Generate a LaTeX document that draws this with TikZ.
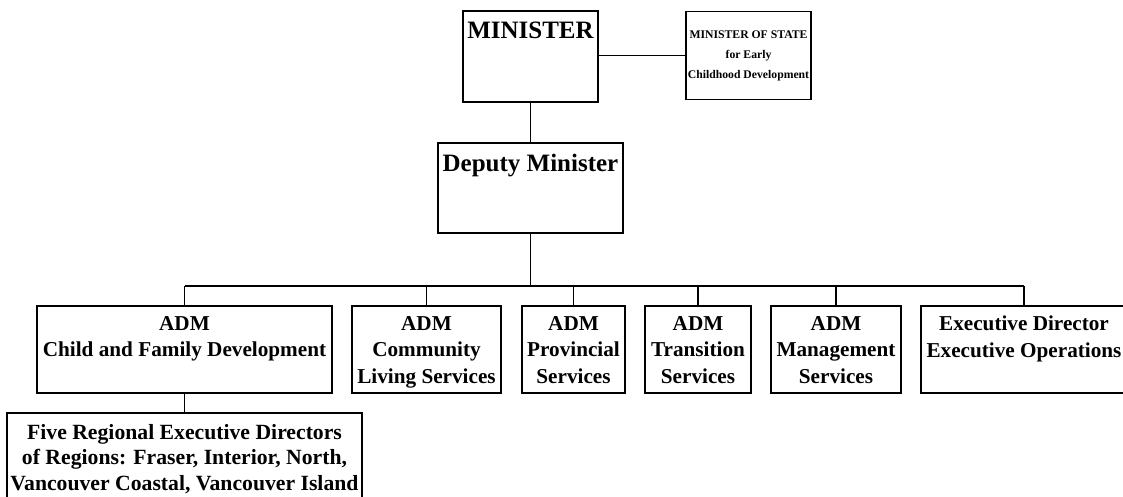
\documentclass[tikz,border=0pt]{standalone}
\usepackage{fontspec}
\setmainfont{Liberation Serif}
\begin{document}
\begin{tikzpicture}[x=1pt,y=-1pt,
  box/.style={draw,line width=1.6pt,inner sep=0pt,outer sep=0pt,minimum width=#1},
  lbl/.style={anchor=north,inner sep=0pt,align=center,font=\bfseries\fontsize{21.2}{26.5}\selectfont},
  lblfive/.style={anchor=north,inner sep=0pt,align=center,font=\bfseries\fontsize{21.7}{25.5}\selectfont},
  big/.style={anchor=north,inner sep=0pt,align=center,font=\bfseries\fontsize{25}{28}\selectfont},
  small/.style={inner sep=0pt,align=center,font=\bfseries\fontsize{11.7}{20}\selectfont},
  conn/.style={line width=1.6pt}]
\useasboundingbox (0,0) rectangle (1123,497);
% top level
\node[box=135pt,minimum height=91pt] (min) at (530.5,56.5) {};
\node[big] (minT) at ([yshift=-11pt]min.north) {MINISTER};
\node[box=125pt,minimum height=88pt] (mos) at (748.5,55.5) {};
\node[small] (mosT) at (mos.center) {MINISTER OF STATE\\for Early\\Childhood Development};
\node[box=185pt,minimum height=90pt] (dep) at (530.5,188) {};
\node[big] (depT) at ([yshift=-11pt]dep.north) {Deputy Minister};
% second level
\node[box=295pt,minimum height=87pt] (cfd) at (184.5,349.5) {};
\node[lbl] (cfdT) at ([yshift=-10pt]cfd.north) {ADM\\Child and Family Development};
\node[box=149pt,minimum height=87pt] (cls) at (426.5,349.5) {};
\node[lbl] (clsT) at ([yshift=-10pt]cls.north) {ADM\\Community\\Living Services};
\node[box=103pt,minimum height=87pt] (prov) at (573.5,349.5) {};
\node[lbl] (provT) at ([yshift=-10pt]prov.north) {ADM\\Provincial\\Services};
\node[box=106pt,minimum height=87pt] (trans) at (698,349.5) {};
\node[lbl] (transT) at ([yshift=-10pt]trans.north) {ADM\\Transition\\Services};
\node[box=130pt,minimum height=87pt] (mgmt) at (836,349.5) {};
\node[lbl] (mgmtT) at ([yshift=-10pt]mgmt.north) {ADM\\Management\\Services};
\node[box=206pt,minimum height=87pt] (exec) at (1024,349.5) {};
\node[lbl] (execT) at ([yshift=-10pt]exec.north) {Executive Director\\Executive Operations};
% third level
\node[box=355pt,minimum height=100pt] (five) at (184.5,463) {};
\node[lblfive] (fiveT) at ([yshift=-11pt]five.north) {Five Regional Executive Directors\\of Regions: Fraser, Interior, North,\\Vancouver Coastal, Vancouver Island};
% connectors
\coordinate (bus) at ([yshift=-53pt]dep.south);
\draw[conn] (min.east |- mos.west) -- (mos.west);
\draw[conn] (min.south) -- (dep.north);
\draw[conn] (dep.south) -- (bus);
\draw[conn] (cfd.north |- bus) -- (exec.north |- bus);
\foreach \n in {cfd,cls,prov,trans,mgmt,exec}
  \draw[conn] (\n.north |- bus) -- (\n.north);
\draw[conn] (cfd.south) -- (five.north);
\end{tikzpicture}
\end{document}
